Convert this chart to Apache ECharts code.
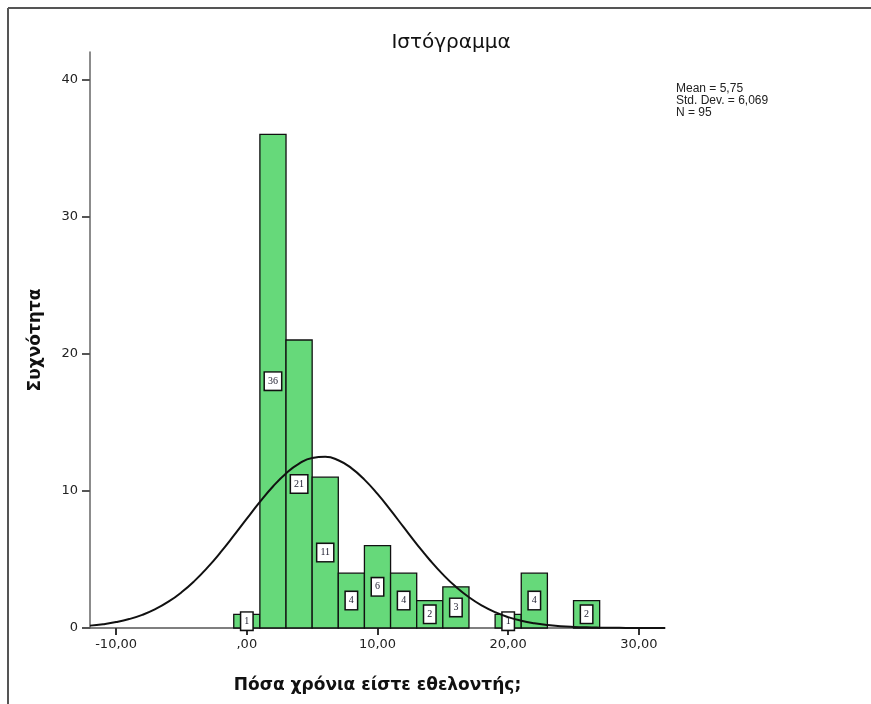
<!DOCTYPE html>
<html>
<head>
<meta charset="utf-8">
<script src="https://cdn.jsdelivr.net/npm/echarts@6/dist/echarts.min.js"></script>
<style>
html,body{margin:0;padding:0;background:#fff;}
#chart{width:871px;height:704px;}
</style>
</head>
<body>
<div id="chart"></div>
<script>
// ---- Data ----
const binCenters = [0, 2, 4, 6, 8, 10, 12, 14, 16, 18, 20, 22, 24, 26];
const binCounts  = [1, 36, 21, 11, 4, 6, 4, 2, 3, 0, 1, 4, 0, 2];
const binWidth = 2;
const curveX = [-12,-11,-10,-9,-8,-7,-6,-5,-4,-3,-2,-1,0,1,2,3,4,5,6,7,8,9,10,11,12,13,14,15,16,17,18,19,20,21,22,23,24,25,26,27,28,29,30,31,32];
const curveY = [0.173,0.277,0.431,0.652,0.959,1.374,1.917,2.602,3.437,4.418,5.527,6.728,7.973,9.195,10.32,11.27,11.98,12.40,12.48,12.23,11.66,10.82,9.773,8.592,7.350,6.119,4.958,3.909,3.000,2.241,1.629,1.152,0.793,0.532,0.347,0.220,0.136,0.0817,0.0478,0.0272,0.0151,0.0081,0.0043,0.0022,0.0011];
const xTicks = [-10, 0, 10, 20, 30];
const yTicks = [0, 10, 20, 30, 40];
const statsLines = ['Mean = 5,75', 'Std. Dev. = 6,069', 'N = 95'];
const titleText = 'Ιστόγραμμα';
const xName = 'Πόσα χρόνια είστε εθελοντής;';
const yName = 'Συχνότητα';

const barData = binCenters.map((c, i) => [c - binWidth / 2, c + binWidth / 2, binCounts[i]]).filter(d => d[2] > 0);
const curveData = curveX.map((x, i) => [x, curveY[i]]);

function fmtX(v) {
  if (v === 0) return ',00';
  return v.toFixed(2).replace('.', ',');
}

const FONT = 'Liberation Sans, Arial, sans-serif';
const DFONT = 'DejaVu Sans, Verdana, sans-serif';
const chart = echarts.init(document.getElementById('chart'), null, {renderer: 'canvas'});
chart.setOption({
  animation: false,
  backgroundColor: '#fff',
  title: {
    text: titleText,
    left: 446, top: 28,
    textAlign: 'center',
    textStyle: {fontFamily: DFONT, fontSize: 20, fontWeight: 'normal', color: '#111'}
  },
  grid: {left: 90, right: 206, top: 52, bottom: 76},
  xAxis: {
    type: 'value', min: -12, max: 32,
    name: xName, nameLocation: 'middle', nameGap: 49,
    nameTextStyle: {fontFamily: DFONT, fontSize: 17, fontWeight: 'bold', color: '#111'},
    axisLine: {show: true, onZero: false, lineStyle: {color: '#555', width: 1.5}},
    axisTick: {show: true, customValues: xTicks, length: 7, inside: false, lineStyle: {color: '#333', width: 2}},
    axisLabel: {customValues: xTicks, formatter: fmtX, fontFamily: DFONT, fontSize: 13, color: '#222', margin: 10},
    splitLine: {show: false}
  },
  yAxis: {
    type: 'value', min: 0, max: 42,
    name: yName, nameLocation: 'middle', nameGap: 46,
    nameTextStyle: {fontFamily: DFONT, fontSize: 17, fontWeight: 'bold', color: '#111'},
    axisLine: {show: true, onZero: false, lineStyle: {color: '#666', width: 1.5}},
    axisTick: {show: true, customValues: yTicks, length: 8, lineStyle: {color: '#555', width: 2}},
    axisLabel: {customValues: yTicks, fontFamily: DFONT, fontSize: 13, color: '#222', margin: 12},
    splitLine: {show: false}
  },
  series: [
    {
      type: 'custom',
      data: barData,
      z: 2,
      renderItem: function (params, api) {
        const p0 = api.coord([api.value(0), 0]);
        const p1 = api.coord([api.value(1), api.value(2)]);
        return {
          type: 'rect',
          shape: {x: p0[0], y: p1[1], width: p1[0] - p0[0], height: p0[1] - p1[1]},
          style: {fill: '#66d97a', stroke: '#111', lineWidth: 1.3},
          textContent: {
            style: {
              text: String(api.value(2)),
              fontFamily: 'Liberation Serif, Times New Roman, serif',
              fontSize: 10,
              fill: '#223',
              backgroundColor: '#fff',
              borderColor: '#111',
              borderWidth: 1.5,
              padding: [4, 3, 3, 3]
            }
          },
          textConfig: {position: 'inside'}
        };
      },
      encode: {x: [0, 1], y: 2}
    },
    {
      type: 'line',
      data: curveData,
      smooth: true,
      showSymbol: false,
      z: 5,
      lineStyle: {color: '#111', width: 2}
    }
  ],
  graphic: [
    {type: 'line', shape: {x1: 8, y1: 8, x2: 871, y2: 8}, style: {stroke: '#555', lineWidth: 2}},
    {type: 'line', shape: {x1: 8, y1: 8, x2: 8, y2: 704}, style: {stroke: '#555', lineWidth: 2}},
    {
      type: 'text', left: 676, top: 83,
      style: {text: statsLines.join('\n'), fontFamily: FONT, fontSize: 12, lineHeight: 12, fill: '#222'}
    }
  ]
});
</script>
</body>
</html>
